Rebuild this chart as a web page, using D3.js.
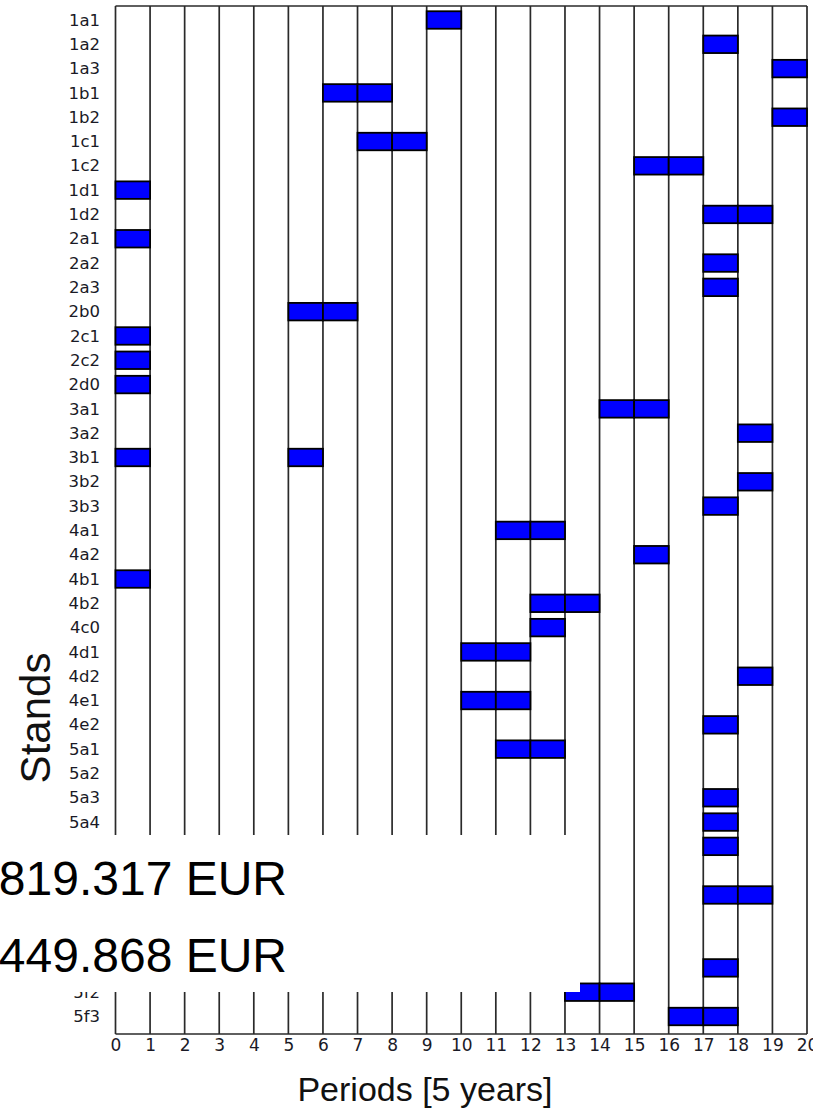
<!DOCTYPE html>
<html>
<head>
<meta charset="utf-8">
<script src="https://cdn.jsdelivr.net/npm/d3@7"></script>
<style>
  html, body { margin: 0; padding: 0; background: #fff; }
  svg { display: block; font-family: "Liberation Sans", Arial, sans-serif; }
</style>
</head>
<body>
<svg id="chart" width="823" height="1110"></svg>
<script>
// Stand identifiers, top to bottom
const stands = ["1a1","1a2","1a3","1b1","1b2","1c1","1c2","1d1","1d2",
  "2a1","2a2","2a3","2b0","2c1","2c2","2d0",
  "3a1","3a2","3b1","3b2","3b3",
  "4a1","4a2","4b1","4b2","4c0","4d1","4d2","4e1","4e2",
  "5a1","5a2","5a3","5a4","5b1","5b2","5c1","5d1","5e1","5f1","5f2","5f3"];

// Harvest periods scheduled for each stand (period start index)
const harvests = [
  [9],[17],[19],[6,7],[19],[7,8],[15,16],[0],[17,18],
  [0],[17],[17],[5,6],[0],[0],[0],
  [14,15],[18],[0,5],[18],[17],
  [11,12],[15],[0],[12,13],[12],[10,11],[18],[10,11],[17],
  [11,12],[],[17],[17],[17],[],[17,18],[],[],[17],[13,14],[16,17]
];

// Period tick labels
const periods = d3.range(0, 21);

// Totals shown in the summary box
const totals = ["819.317 EUR", "449.868 EUR"];

const svg = d3.select("#chart");

const x = d3.scaleLinear().domain([0, 20]).range([115.5, 807]);
const step = 24.305;
const y = d3.scaleBand().domain(stands)
  .range([20 - step / 2, 20 + step * (stands.length - 0.5)]);

const plotTop = 6, plotBottom = 1034;
const box = { x: 0, y: 835, w: 580, h: 157 };

// Vertical period grid lines
svg.append("g").selectAll("line").data(periods).join("line")
  .attr("x1", d => x(d)).attr("x2", d => x(d))
  .attr("y1", plotTop).attr("y2", plotBottom)
  .attr("stroke", "#2a2a2a").attr("stroke-width", 1.7);

// Top and bottom frame lines
svg.append("line").attr("x1", x(0)).attr("x2", x(20)).attr("y1", plotTop).attr("y2", plotTop)
  .attr("stroke", "#2a2a2a").attr("stroke-width", 1.7);
svg.append("line").attr("x1", x(0)).attr("x2", x(20)).attr("y1", plotBottom).attr("y2", plotBottom)
  .attr("stroke", "#2a2a2a").attr("stroke-width", 1.7);

// Harvest bars
const cells = [];
stands.forEach((s, i) => harvests[i].forEach(p => cells.push({ stand: s, period: p })));
const barH = 17.5;
svg.append("g").selectAll("rect").data(cells).join("rect")
  .attr("x", d => x(d.period))
  .attr("width", d => x(d.period + 1) - x(d.period))
  .attr("y", d => y(d.stand) + y.bandwidth() / 2 - barH / 2)
  .attr("height", barH)
  .attr("fill", "#0000ff")
  .attr("stroke", "#000").attr("stroke-width", 1.8);

// Stand labels (rows under the summary box carry no visible label)
const yAxis = svg.append("g").attr("transform", "translate(100,0)")
  .call(d3.axisLeft(y).tickSize(0).tickPadding(0));
yAxis.select(".domain").remove();
yAxis.selectAll(".tick")
  .filter(d => {
    const c = y(d) + y.bandwidth() / 2;
    return c > box.y && c < box.y + box.h - 6;
  }).remove();
yAxis.selectAll("text")
  .attr("font-size", 16.5).attr("fill", "#1a1a26")
  .attr("font-family", "DejaVu Sans, Verdana, sans-serif")
  .attr("dy", "0.34em");

// Period labels
const xAxis = svg.append("g").attr("transform", `translate(0,${plotBottom})`)
  .call(d3.axisBottom(x).tickValues(periods).tickFormat(d3.format("d")).tickSize(0).tickPadding(5));
xAxis.select(".domain").remove();
xAxis.selectAll("text")
  .attr("font-size", 17).attr("fill", "#1a1a26")
  .attr("font-family", "DejaVu Sans, Verdana, sans-serif");

// Axis titles
svg.append("text").attr("transform", "translate(50,718) rotate(-90)")
  .attr("text-anchor", "middle").attr("font-size", 42).attr("fill", "#111")
  .text("Stands");
svg.append("text").attr("x", 425).attr("y", 1101)
  .attr("text-anchor", "middle").attr("font-size", 34).attr("fill", "#111")
  .text("Periods [5 years]");

// Summary box with totals
svg.append("rect").attr("x", box.x).attr("y", box.y).attr("width", box.w).attr("height", box.h)
  .attr("fill", "#fff");
svg.selectAll("text.total").data(totals).join("text").attr("class", "total")
  .attr("x", 287).attr("y", (d, i) => 895 + i * 77)
  .attr("text-anchor", "end").attr("font-size", 48).attr("fill", "#000")
  .text(d => d);

// Right margin strip
svg.append("rect").attr("x", 813).attr("y", 0).attr("width", 10).attr("height", 1110)
  .attr("fill", "#fff");
</script>
</body>
</html>
